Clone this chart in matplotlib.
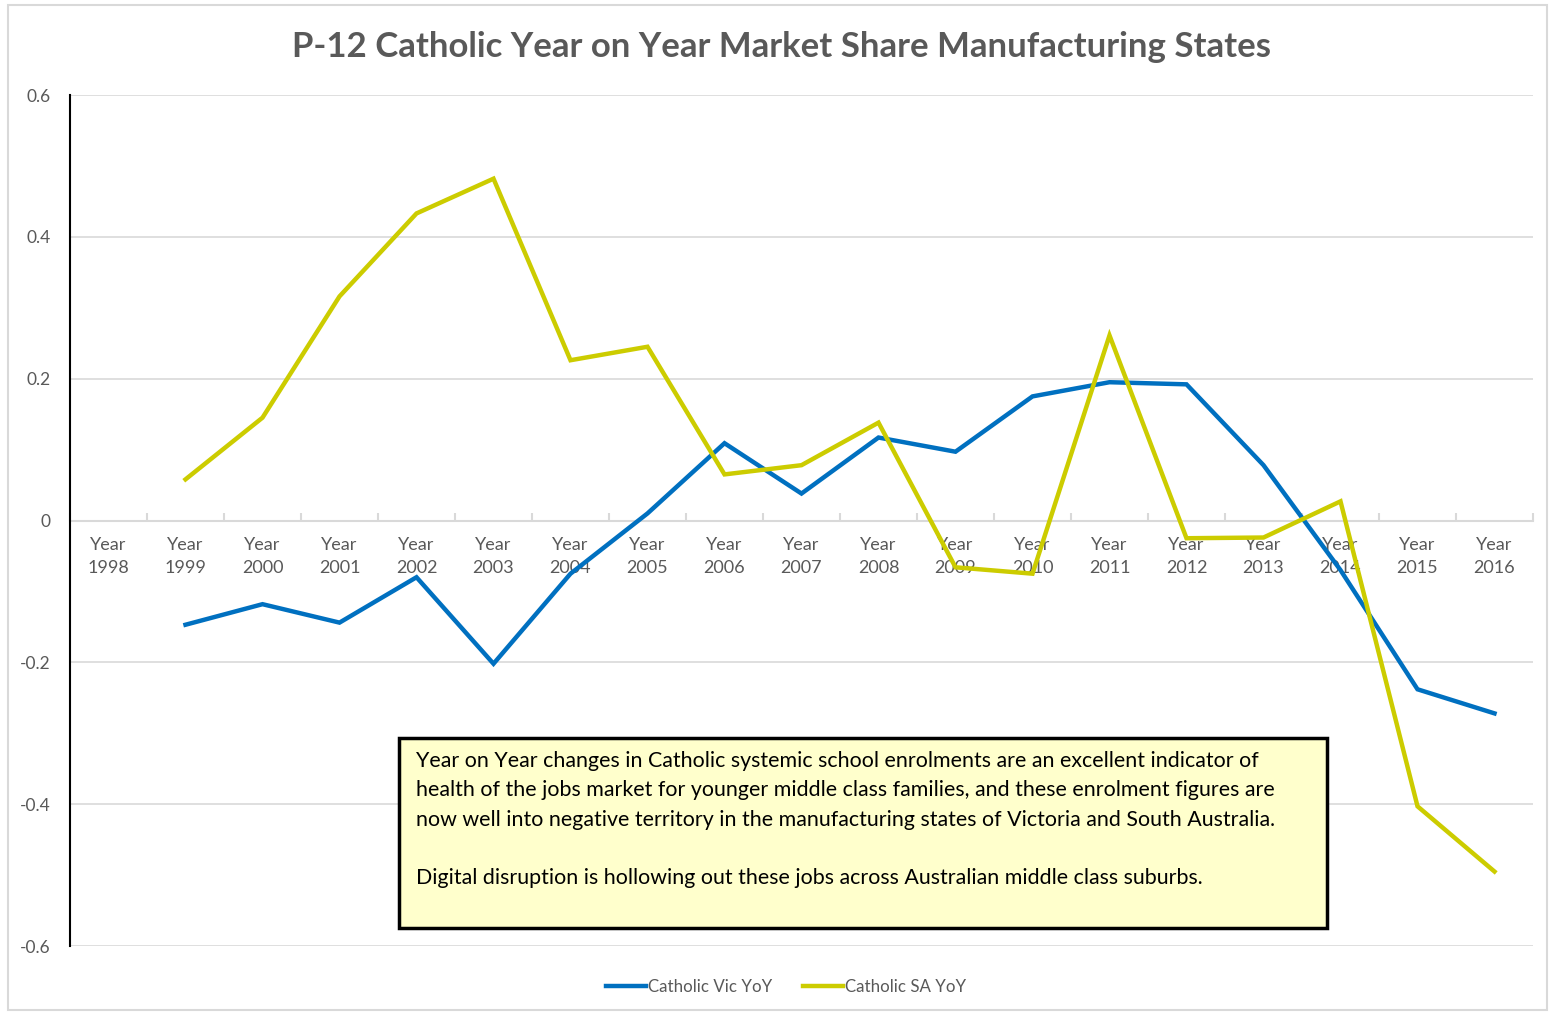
import matplotlib
matplotlib.use("Agg")
import matplotlib.pyplot as plt
from matplotlib.patches import Rectangle
import numpy as np

years = ["Year\n%d" % y for y in range(1998, 2017)]
vic = [None, -0.147, -0.118, -0.144, -0.080, -0.202, -0.075, 0.010, 0.109, 0.038,
       0.117, 0.097, 0.175, 0.195, 0.192, 0.078, -0.070, -0.238, -0.272]
sa = [None, 0.058, 0.145, 0.316, 0.433, 0.482, 0.226, 0.245, 0.065, 0.078,
      0.138, -0.066, -0.075, 0.261, -0.025, -0.024, 0.027, -0.403, -0.495]
yticks = [-0.6, -0.4, -0.2, 0, 0.2, 0.4, 0.6]
title = "P-12 Catholic Year on Year Market Share Manufacturing States"
note = ("Year on Year changes in Catholic systemic school enrolments are an excellent indicator of\n"
        "health of the jobs market for younger middle class families, and these enrolment figures are\n"
        "now well into negative territory in the manufacturing states of Victoria and South Australia.\n"
        "\n"
        "Digital disruption is hollowing out these jobs across Australian middle class suburbs.")

plt.rcParams['font.family'] = ['Lato', 'DejaVu Sans']
W, H = 1551, 1013
fig = plt.figure(figsize=(W/100, H/100), dpi=100)
ax = fig.add_axes([70/W, 1-946/H, (1533-70)/W, (946-95)/H])

x = np.arange(len(years))
v = np.array([np.nan if a is None else a for a in vic], dtype=float)
s = np.array([np.nan if a is None else a for a in sa], dtype=float)
ax.plot(x, v, color='#0070C0', lw=3.2, label='Catholic Vic YoY', solid_joinstyle='miter')
ax.plot(x, s, color='#CCCC00', lw=3.2, label='Catholic SA YoY', solid_joinstyle='miter')

ax.set_xlim(-0.5, len(years)-0.5)
ax.set_ylim(-0.6, 0.6)
ax.set_yticks(yticks)
ax.set_yticklabels(['-0.6', '-0.4', '-0.2', '0', '0.2', '0.4', '0.6'])
for yv in yticks:
    if yv != 0:
        ax.axhline(yv, color='#D9D9D9', lw=1.2, zorder=0)
ax.tick_params(axis='y', length=0, pad=14, labelsize=12.5, labelcolor='#595959')

ax.spines['bottom'].set_position(('data', 0))
ax.spines['bottom'].set_color('#D9D9D9')
ax.spines['bottom'].set_linewidth(1.5)
ax.spines['bottom'].set_zorder(0.5)
ax.spines['top'].set_visible(False)
ax.spines['right'].set_visible(False)
ax.spines['left'].set_color('black')
ax.spines['left'].set_linewidth(1.5)

ax.set_xticks(x)
ax.set_xticklabels(years)
ax.set_xticks(np.arange(-0.5, len(years), 1.0), minor=True)
ax.tick_params(axis='x', which='major', length=0, pad=12, labelsize=13, labelcolor='#595959')
ax.tick_params(axis='x', which='minor', direction='in', length=6, color='#D9D9D9', width=1.5)
for lab in ax.get_xticklabels():
    lab.set_linespacing(1.5)

fig.text(782/W, 1-47/H, title, ha='center', va='center', fontsize=25,
         fontweight='bold', color='#595959')

# annotation box
fig.patches.append(Rectangle((399/W, 1-928/H), 928/W, 190/H, transform=fig.transFigure,
                             facecolor='#FFFFCC', edgecolor='black', lw=2.5, zorder=5))
fig.text(416/W, 1-751/H, note, ha='left', va='top', fontsize=15.4, color='black',
         linespacing=1.58, zorder=6)

# outer border
fig.patches.append(Rectangle((8/W, 3/H), (W-12)/W, (H-8)/H, transform=fig.transFigure,
                             facecolor='none', edgecolor='#D9D9D9', lw=1.5))

fig.legend(loc='center', bbox_to_anchor=(786/W, 1-987/H), ncol=2, frameon=False,
           fontsize=12.2, labelcolor='#595959', handlelength=2.4, handletextpad=0.1,
           columnspacing=1.8)

fig.savefig('out.png', dpi=100)
